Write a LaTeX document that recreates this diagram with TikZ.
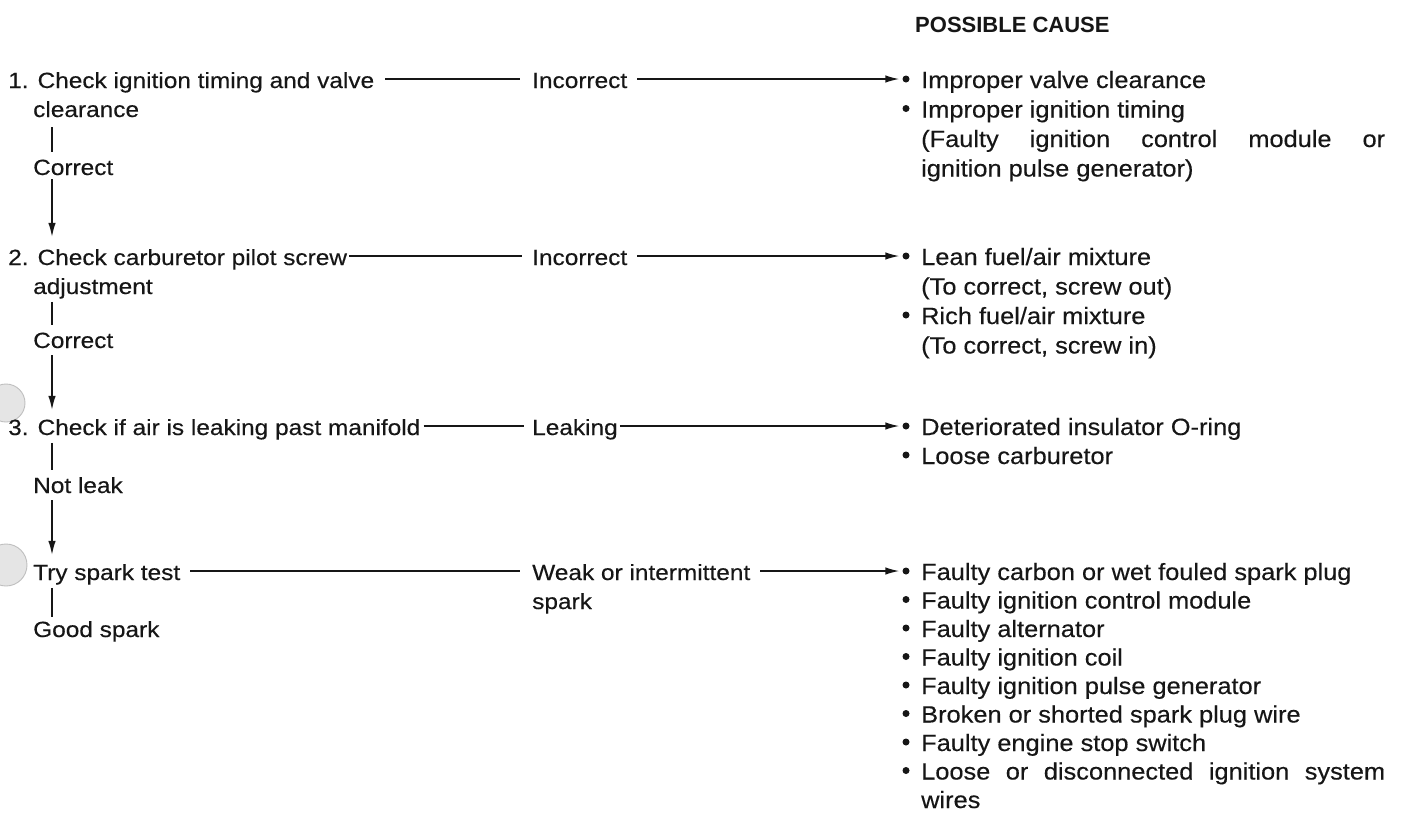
\documentclass[tikz,border=0pt]{standalone}
\usepackage{fontspec}
\setmainfont{Liberation Sans}
\newfontfamily\stepfont[FakeStretch=1.11,FakeBold=0.3]{Liberation Sans}
\newfontfamily\causefont[FakeStretch=1.08,FakeBold=0.3]{Liberation Sans}
\newfontfamily\headfont{Liberation Sans Bold}
\usetikzlibrary{arrows.meta}
\definecolor{ink}{HTML}{161616}

\begin{document}
\begin{tikzpicture}[x=1pt,y=-1pt,
  txt/.style={inner sep=0pt, anchor=base west, text=ink,
              font=\stepfont\fontsize{22}{30}\selectfont},
  cause/.style={inner sep=0pt, anchor=base west, text=ink,
              font=\causefont\fontsize{23.5}{29}\selectfont},
  head/.style={inner sep=0pt, anchor=base west, text=ink,
              font=\headfont\fontsize{22}{26}\selectfont},
  conn/.style={draw=ink, line width=1.5pt},
  arr/.style={conn, -{Latex[length=14pt,width=7.5pt]}},
  dot/.style={circle, fill=ink, inner sep=0pt, minimum size=7pt},
  hole/.style={fill=gray!20, draw=gray!50, line width=0.9pt}
]
% page
\fill[white] (0,0) rectangle (1403,812);
\path[use as bounding box] (0,0) rectangle (1403,812);

% punched holes along the left margin
\begin{scope}
  \clip (0,0) rectangle (1403,812);
  \filldraw[hole] (6,403) circle (19);
  \filldraw[hole] (6,565) circle (21);
\end{scope}

% heading
\node[head] (hd) at (915,32) {POSSIBLE CAUSE};

% check steps (left column), placed on their baselines
\node[txt] (s1)  at (8,88)   {1. Check ignition timing and valve};
\node[txt] (s1b) at (33,117) {clearance};
\node[txt] (c1)  at (33,175) {Correct};
\node[txt] (s2)  at (8,265)  {2. Check carburetor pilot screw};
\node[txt] (s2b) at (33,294) {adjustment};
\node[txt] (c2)  at (33,348) {Correct};
\node[txt] (s3)  at (8,435)  {3. Check if air is leaking past manifold};
\node[txt] (c3)  at (33,493) {Not leak};
\node[txt] (s4)  at (33,580) {Try spark test};
\node[txt] (c4)  at (33,637) {Good spark};

% results (middle column)
\node[txt] (m1)  at (532,88)  {Incorrect};
\node[txt] (m2)  at (532,265) {Incorrect};
\node[txt] (m3)  at (532,435) {Leaking};
\node[txt] (m4)  at (532,580) {Weak or intermittent};
\node[txt] (m4b) at (532,609) {spark};

% possible causes (right column)
\node[dot] (b1) at (906,79) {};
\node[cause] at (921,88)    {Improper valve clearance};
\node[dot] (b2) at (906,108.5) {};
\node[cause] at (921,117.5) {Improper ignition timing};
\node[cause] at (921,147)   {\makebox[464pt][s]{(Faulty ignition control module or}};
\node[cause] at (921,176.5) {ignition pulse generator)};

\node[dot] (b3) at (906,256) {};
\node[cause] at (921,265)   {Lean fuel/air mixture};
\node[cause] at (921,294.5) {(To correct, screw out)};
\node[dot] (b4) at (906,315) {};
\node[cause] at (921,324)   {Rich fuel/air mixture};
\node[cause] at (921,353.5) {(To correct, screw in)};

\node[dot] (b5) at (906,426) {};
\node[cause] at (921,435)   {Deteriorated insulator O-ring};
\node[dot] (b6) at (906,455) {};
\node[cause] at (921,464)   {Loose carburetor};

\node[dot] (b7)  at (906,571.0) {};
\node[cause] at (921,580.0) {Faulty carbon or wet fouled spark plug};
\node[dot] (b8)  at (906,599.5) {};
\node[cause] at (921,608.5) {Faulty ignition control module};
\node[dot] (b9)  at (906,628.0) {};
\node[cause] at (921,637.0) {Faulty alternator};
\node[dot] (b10) at (906,656.5) {};
\node[cause] at (921,665.5) {Faulty ignition coil};
\node[dot] (b11) at (906,685.0) {};
\node[cause] at (921,694.0) {Faulty ignition pulse generator};
\node[dot] (b12) at (906,713.5) {};
\node[cause] at (921,722.5) {Broken or shorted spark plug wire};
\node[dot] (b13) at (906,742.0) {};
\node[cause] at (921,751.0) {Faulty engine stop switch};
\node[dot] (b14) at (906,770.5) {};
\node[cause] at (921,779.5) {\makebox[464pt][s]{Loose or disconnected ignition system}};
\node[cause] at (921,808.0) {wires};

% vertical flow down the left column
\coordinate (vx) at (52,0);
\draw[conn, shorten <=10pt, shorten >=7pt]  (vx |- s1b.south) -- (vx |- c1.north);
\draw[arr,  shorten <=4pt,  shorten >=12pt] (vx |- c1.south)  -- (vx |- s2.north);
\draw[conn, shorten <=3pt,  shorten >=7pt]  (vx |- s2b.south) -- (vx |- c2.north);
\draw[arr,  shorten <=7pt,  shorten >=9pt]  (vx |- c2.south)  -- (vx |- s3.north);
\draw[conn, shorten <=3pt,  shorten >=7pt]  (vx |- s3.south)  -- (vx |- c3.north);
\draw[arr,  shorten <=7pt,  shorten >=9pt]  (vx |- c3.south)  -- (vx |- s4.north);
\draw[conn, shorten <=3pt,  shorten >=4pt]  (vx |- s4.south)  -- (vx |- c4.north);

% horizontal links from checks to results, at mid-letter height
\draw[conn, shorten <=11pt, shorten >=12pt] ([yshift=9pt]s1.base east) -- ([yshift=9pt]m1.base west);
\draw[conn, shorten <=2pt,  shorten >=10pt] ([yshift=9pt]s2.base east) -- ([yshift=9pt]m2.base west);
\draw[conn, shorten <=3pt,  shorten >=8pt]  ([yshift=9pt]s3.base east) -- ([yshift=9pt]m3.base west);
\draw[conn, shorten <=10pt, shorten >=12pt] ([yshift=9pt]s4.base east) -- ([yshift=9pt]m4.base west);

% arrows from results to causes
\draw[arr, shorten <=10pt, shorten >=3pt] ([yshift=9pt]m1.base east) -- (b1.west);
\draw[arr, shorten <=10pt, shorten >=3pt] ([yshift=9pt]m2.base east) -- (b3.west);
\draw[arr, shorten <=2pt,  shorten >=3pt] ([yshift=9pt]m3.base east) -- (b5.west);
\draw[arr, shorten <=10pt, shorten >=3pt] ([yshift=9pt]m4.base east) -- (b7.west);
\end{tikzpicture}
\end{document}
